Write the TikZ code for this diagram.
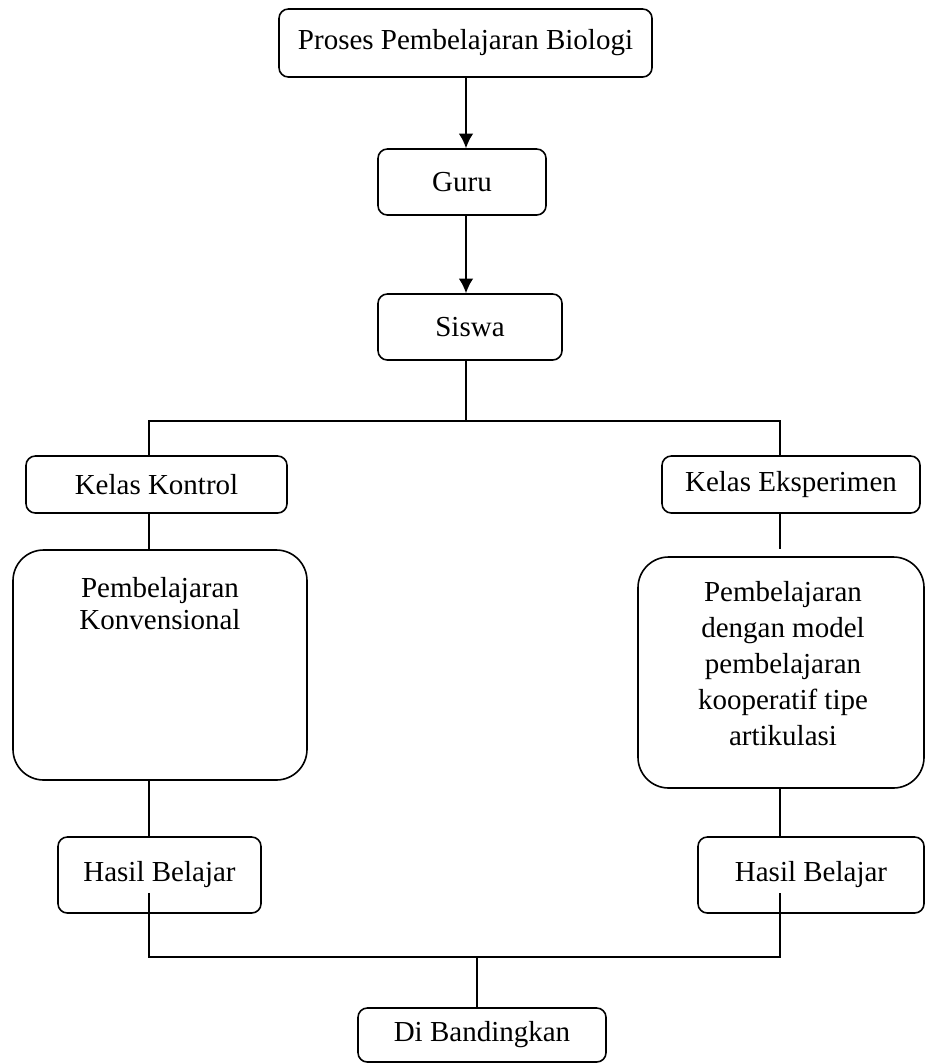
\documentclass[tikz,border=0pt]{standalone}
\usepackage{fontspec}
\setmainfont{Liberation Serif}
\usepackage{tikz}
\usetikzlibrary{arrows.meta,calc}

\begin{document}
\begin{tikzpicture}[
        x=0.75pt, y=-0.75pt,
        font=\fontsize{21.75}{24}\selectfont,
        box/.style={draw, rounded corners=7pt, align=center, line width=1.2pt, inner sep=0pt},
        bigbox/.style={draw, rounded corners=23pt, line width=1.2pt, inner sep=0pt},
        txt/.style={align=center, inner sep=0pt, anchor=north},
        arr/.style={-{Latex[length=11pt,width=11pt]}, line width=1.2pt},
        ln/.style={line width=1.2pt}
    ]
        \useasboundingbox (0,0) rectangle (925,1064);
        \node[box, minimum width=279.75pt, minimum height=51pt] (proses) at (465.5,43) {Proses Pembelajaran Biologi};
        \node[box, minimum width=126pt, minimum height=49.5pt] (guru) at (462,182) {Guru};
        \node[box, minimum width=138pt, minimum height=49.5pt] (siswa) at (470,327) {Siswa};
        \node[box, minimum width=195.75pt, minimum height=42.75pt] (kontrol) at (156.5,484.5) {Kelas Kontrol};
        \node[box, minimum width=193.5pt, minimum height=42.75pt] (eksp) at (791,484.5) {Kelas Eksperimen};
        \node[bigbox, minimum width=220.5pt, minimum height=172.5pt] (konv) at (160,665) {};
        \node[txt] (konvtxt) at ($(konv.north)+(0,28)$) {Pembelajaran\\Konvensional};
        \node[bigbox, minimum width=214.5pt, minimum height=173.25pt] (model) at (781,672.5) {};
        \node[txt, font=\fontsize{21.75}{27}\selectfont] (modeltxt) at ($(model.north)+(2,25)$) {Pembelajaran\\dengan model\\pembelajaran\\kooperatif tipe\\artikulasi};
        \node[box, minimum width=152.25pt, minimum height=57pt] (hasilk) at (159.5,875) {Hasil Belajar};
        \node[box, minimum width=169.5pt, minimum height=57pt] (hasile) at (811,875) {Hasil Belajar};
        \node[box, minimum width=186pt, minimum height=40.5pt] (banding) at (482,1035) {Di Bandingkan};
        % junctions
        \coordinate (split) at (466,421);
        \coordinate (kl) at (149,421);
        \coordinate (kr) at (780,421);
        \coordinate (jl) at (149,957);
        \coordinate (jr) at (780,957);
        \coordinate (join) at (477,957);
        \draw[arr] (proses.south -| split) -- (split |- guru.north);
        \draw[arr] (guru.south -| split) -- (split |- siswa.north);
        \draw[ln] (siswa.south -| split) -- (split);
        \draw[ln] (kl |- kontrol.north) -- (kl) -- (kr) -- (kr |- eksp.north);
        \draw[ln] (kontrol.south -| kl) -- (kl |- konv.north);
        \draw[ln] (eksp.south -| kr) -- ($(model.north -| kr)+(0,-7)$);
        \draw[ln] (konv.south -| kl) -- (kl |- hasilk.north);
        \draw[ln] (model.south -| kr) -- (kr |- hasile.north);
        \draw[ln] ($(hasilk.south -| jl)+(0,-21)$) -- (jl) -- (jr) -- ($(hasile.south -| jr)+(0,-21)$);
        \draw[ln] (join) -- (join |- banding.north);
    \end{tikzpicture}
\end{document}
